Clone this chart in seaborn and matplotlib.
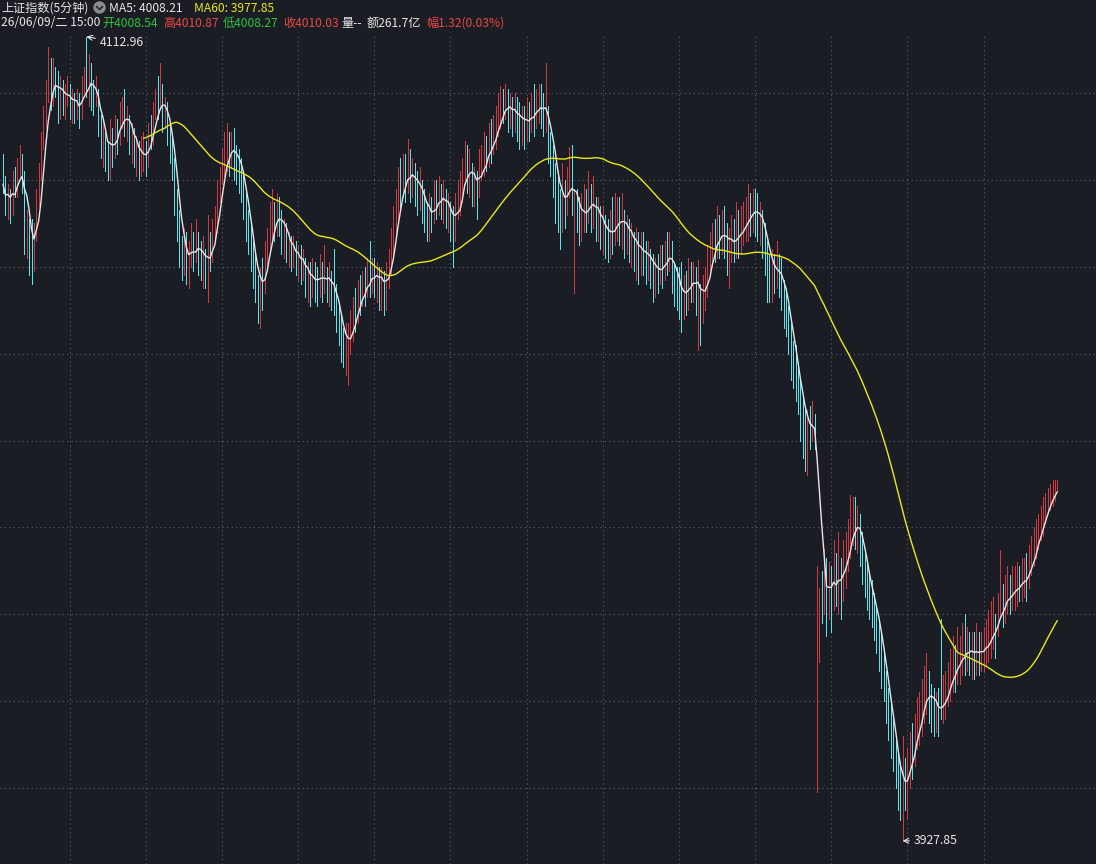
import numpy as np
import pandas as pd
import matplotlib
matplotlib.use("Agg")
import matplotlib.pyplot as plt
import seaborn as sns
from matplotlib.patches import Circle
from matplotlib.lines import Line2D
from matplotlib.transforms import IdentityTransform

# ---------------- data (5-minute bars) ----------------
opens = [
4083,4079,4074,4077,4074,4080,4078,4083,4084,4079,
4066,4070,4066,4062,4068,4076,4081,4089,4094,4100,
4103,4099,4104,4103,4098,4102,4097,4100,4101,4097,
4098,4096,4099,4095,4101,4107,4101,4104,4101,4099,
4100,4093,4089,4091,4086,4085,4091,4087,4092,4090,
4096,4097,4093,4094,4089,4091,4086,4088,4084,4085,
4087,4085,4091,4090,4096,4098,4097,4100,4095,4096,
4092,4088,4084,4076,4071,4064,4062,4066,4060,4062,
4066,4063,4066,4064,4061,4063,4059,4064,4063,4069,
4070,4077,4080,4083,4087,4087,4086,4088,4086,4084,
4082,4080,4077,4070,4068,4063,4061,4056,4053,4057,
4056,4063,4066,4069,4071,4070,4074,4071,4068,4068,
4065,4066,4062,4064,4061,4063,4060,4061,4057,4058,
4056,4058,4057,4056,4059,4057,4058,4056,4057,4055,
4054,4049,4047,4043,4041,4040,4044,4046,4050,4049,
4054,4053,4056,4055,4058,4057,4060,4057,4058,4056,
4057,4055,4058,4060,4066,4070,4073,4078,4077,4082,
4080,4083,4080,4081,4079,4077,4079,4075,4073,4070,
4073,4072,4076,4075,4077,4075,4076,4073,4074,4072,
4068,4074,4076,4077,4082,4085,4081,4082,4079,4080,
4078,4083,4084,4086,4085,4089,4088,4091,4092,4095,
4097,4096,4099,4095,4097,4094,4096,4095,4093,4094,
4092,4095,4094,4096,4095,4097,4098,4097,4093,4096,
4089,4086,4083,4079,4076,4073,4077,4075,4080,4081,
4070,4075,4073,4070,4072,4074,4073,4076,4074,4075,
4071,4072,4069,4070,4067,4066,4069,4068,4071,4072,
4070,4071,4068,4069,4066,4067,4064,4065,4063,4064,
4063,4062,4063,4060,4059,4059,4058,4061,4060,4063,
4062,4064,4060,4056,4055,4054,4052,4055,4054,4058,
4056,4057,4052,4055,4051,4055,4056,4062,4063,4066,
4065,4068,4067,4069,4067,4064,4065,4067,4066,4068,
4067,4069,4070,4071,4073,4072,4074,4073,4071,4071,
4068,4065,4061,4058,4060,4059,4060,4058,4055,4052,
4050,4046,4040,4038,4035,4032,4027,4024,4020,4024,
4022,4024,3982,3978,3986,3983,3990,3984,3988,3986,
3989,3987,3989,3988,3992,3995,3997,4000,4002,4000,
4001,3996,3992,3989,3986,3985,3982,3980,3976,3974,
3969,3965,3961,3957,3953,3950,3946,3940,3936,3943,
3941,3946,3949,3948,3953,3956,3957,3960,3962,3964,
3961,3959,3956,3959,3961,3959,3961,3962,3965,3966,
3968,3967,3970,3970,3972,3971,3972,3971,3972,3970,
3972,3971,3972,3972,3973,3974,3976,3978,3977,3981,
3983,3982,3984,3985,3984,3986,3986,3988,3987,3988,
3989,3988,3992,3994,3996,3997,4000,4001,4003,4005,
4006.4,4007.6,4008.3,4008.54]

highs = [
4086,4081,4079,4078,4082,4083,4085,4088,4086,4082,
4073,4071,4071,4070,4078,4084,4091,4097,4103,4110.6,
4108,4108,4106,4105,4104,4103,4102,4104,4102,4101,
4100,4101,4100,4104,4106,4112.96,4109,4107,4103,4104,
4101,4095,4094,4092,4089,4094,4092,4095,4094,4098,
4099,4101,4097,4095,4093,4092,4090,4089,4090,4091,
4089,4093,4095,4098,4101,4104,4107,4102,4099,4098,
4093,4090,4085,4078,4073,4067,4069,4068,4066,4070,
4068,4071,4068,4066,4067,4064,4072,4068,4071,4074,
4080,4083,4087,4091,4093,4091,4091,4092,4088,4087,
4085,4082,4078,4073,4070,4066,4063,4058,4060,4062,
4066,4069,4075,4078,4075,4077,4076,4073,4071,4070,
4068,4067,4067,4066,4065,4065,4064,4062,4061,4061,
4062,4061,4060,4063,4061,4065,4060,4061,4059,4064,
4056,4052,4049,4046,4047,4047,4050,4053,4055,4057,
4058,4059,4060,4062,4066,4062,4062,4061,4060,4060,
4059,4061,4064,4069,4074,4078,4083,4085,4086,4086,
4089.4,4087,4085,4084,4082,4083,4080,4078,4075,4077,
4076,4080,4080,4081,4079,4080,4078,4077,4075,4074,
4077,4080,4082,4085,4089,4088,4087,4084,4083,4082,
4087,4088,4091,4090,4093,4094,4095,4097,4100,4101.6,
4101,4102,4101,4100,4099,4100,4099,4098,4097,4097,
4099,4098,4100,4102,4101,4102,4102,4100,4106.9,4097,
4091,4088,4084,4082,4078,4084,4080,4083,4087.6,4088,
4078,4078,4076,4077,4079,4078,4082,4079,4081,4076,
4076,4074,4074,4072,4071,4073,4076,4077,4076,4076,
4077,4073,4072,4071,4070,4068,4069,4068,4068,4068,
4066,4066,4064,4063,4062,4063,4065,4065,4066,4068,
4068,4066,4061,4060,4060,4061,4058,4059,4062,4061,
4061,4060,4061.6,4056,4058,4060,4065,4068,4070,4071,
4074,4072,4073,4074,4070,4069,4072,4071,4075,4073,
4074,4075,4076,4079,4077,4078,4078,4077,4075,4073,
4070,4066,4063,4064,4063,4066,4063,4062,4057,4055,
4051,4047,4043,4042,4038,4034,4030,4028,4027,4028,
4029,4026,3991,3986,3990,3995,3993,3992,3991,3997,
3994,3999,3993,3997,3999,4002,4007.5,4007,4007,4005,
4003,3999,3995,3992,3990,3988,3985,3982,3979,3976,
3972,3967,3963,3960,3956,3952,3948,3946,3952,3947,
3949,3953,3955,3957,3961,3962,3965,3968,3971,3967,
3964,3963,3962,3963,3979,3966,3967,3969,3972,3975,
3973,3977,3975,3978,3980,3977,3976,3976,3976,3978,
3976,3976,3977,3979,3981,3983,3984,3980,3985,3994.8,
3987,3989,3991,3989,3991,3991,3992,3991,3993,3993,
3994,3996,3998,4000,4002,4003,4005,4007,4008,4009,
4010,4011,4011,4010.87]

lows = [
4077,4072,4071,4070,4072,4076,4076,4080,4077,4063,
4062,4058,4056,4059,4066,4074,4080,4087,4092,4098,
4096,4097,4099,4093,4094,4095,4094,4097,4094,4093,
4093,4094,4092,4094,4100,4099,4097,4096,4095,4097,
4090,4085,4083,4082,4080,4080,4083,4085,4086,4088,
4092,4090,4089,4086,4084,4083,4081,4080,4081,4082,
4081,4083,4087,4088,4094,4094,4096,4091,4092,4088,
4084,4080,4072,4066,4060,4057,4058,4056,4055,4060,
4059,4061,4058,4057,4055,4055,4052,4059,4061,4066,
4068,4075,4079,4081,4082,4081,4083,4080,4079,4077,
4075,4071,4066,4063,4059,4055,4052,4047,4046,4050,
4054,4060,4063,4066,4066,4067,4067,4063,4062,4061,
4060,4059,4060,4058,4057,4056,4057,4053,4052,4051,
4053,4052,4051,4053,4052,4054,4052,4051,4050,4049,
4045,4042,4038,4037,4035,4032.8,4040,4043,4045,4047,
4049,4051,4051,4053,4053,4054,4053,4052,4050,4050,
4049,4050,4055,4058,4063,4067,4071,4073,4076,4075,
4077,4075,4076,4074,4072,4073,4070,4068,4066,4066,
4068,4070,4071,4072,4071,4070,4069,4068,4066,4060,
4066,4071,4072,4075,4079,4077,4076,4074,4074,4071,
4076,4080,4081,4082,4083,4084,4086,4087,4090,4092,
4093,4094,4091,4092,4090,4091,4089,4087,4088,4087,
4089,4089,4091,4090,4092,4093,4092,4090,4091,4084,
4081,4076,4070,4068,4064,4068,4069,4072,4076,4072,
4054,4068,4065,4066,4068,4068,4070,4068,4069,4066,
4066,4064,4063,4062,4061,4062,4063,4065,4066,4065,
4064,4062,4063,4061,4060,4059,4057,4056,4058,4058,
4056,4057,4055,4052,4053,4054,4056,4055,4057,4058,
4059,4054,4051,4050,4048,4045,4048,4049,4050,4052,
4052,4049,4040.8,4042,4047,4050,4053,4058,4060,4061,
4062,4062,4063,4062,4058,4055,4061,4061,4062,4062,
4063,4065,4066,4066,4067,4068,4067,4066,4065,4062,
4058,4052,4052,4052,4054,4055,4053,4050,4046,4044,
4040,4034,4032,4029,4026,4020,4016,4013,4012,4018,
4020,4018,3939,3969,3978,3980,3975,3979,3976,3981,
3982,3980,3979,3983,3986,3990,3993,3996,3995,3994,
3991,3987,3984,3981,3979,3977,3974,3971,3967,3963,
3960,3955,3951,3947,3944,3940,3935,3932.6,3927.85,3935,
3933,3940,3942,3945,3949,3950,3952,3955,3957,3955,
3953,3952,3953,3952,3956,3955,3956,3959,3960,3962,
3962,3964,3964,3966,3966,3967,3966,3965,3965,3966,
3966,3967,3967,3968,3969,3970,3972,3970,3975,3979.4,
3977,3978,3980,3980,3981,3981,3982,3983,3983,3984,
3983,3986,3989,3991,3993,3995,3997,3998,4001,4003,
4004,4005,4006,4008.27]

closes = [
4079,4074,4077,4074,4080,4078,4083,4084,4079,4066,
4070,4066,4062,4068,4076,4081,4089,4094,4100,4103,
4099,4104,4103,4098,4102,4097,4100,4101,4097,4098,
4096,4099,4095,4101,4104,4101,4104,4101,4099,4100,
4093,4089,4091,4086,4085,4091,4087,4092,4090,4096,
4097,4093,4094,4089,4091,4086,4088,4084,4085,4087,
4085,4091,4090,4096,4098,4097,4100,4095,4096,4092,
4088,4084,4076,4071,4064,4062,4066,4060,4062,4066,
4063,4066,4064,4061,4063,4059,4064,4063,4069,4070,
4077,4080,4083,4087,4087,4086,4088,4086,4084,4082,
4080,4077,4070,4068,4063,4061,4056,4053,4057,4056,
4063,4066,4069,4071,4070,4074,4071,4068,4068,4065,
4066,4062,4064,4061,4063,4060,4061,4057,4058,4056,
4058,4057,4056,4059,4057,4058,4056,4057,4055,4054,
4049,4047,4043,4041,4043,4044,4046,4050,4049,4054,
4053,4056,4055,4058,4057,4060,4057,4058,4056,4057,
4055,4058,4060,4066,4070,4073,4078,4077,4082,4080,
4083,4080,4081,4079,4077,4079,4075,4073,4070,4073,
4072,4076,4075,4077,4075,4076,4073,4074,4070,4068,
4074,4076,4077,4082,4085,4081,4082,4079,4080,4078,
4083,4084,4086,4085,4089,4088,4091,4092,4095,4097,
4096,4099,4095,4097,4094,4096,4095,4093,4094,4092,
4095,4094,4096,4095,4097,4098,4097,4095,4096,4089,
4086,4083,4079,4076,4073,4077,4075,4080,4081,4077,
4075,4073,4070,4072,4074,4073,4076,4074,4075,4071,
4072,4069,4070,4067,4066,4069,4068,4071,4072,4070,
4071,4068,4069,4066,4067,4064,4065,4063,4064,4063,
4062,4063,4060,4059,4059,4058,4061,4060,4063,4062,
4064,4060,4056,4055,4054,4052,4055,4054,4058,4057,
4057,4055,4055,4051,4055,4056,4062,4063,4066,4065,
4068,4067,4069,4067,4064,4065,4067,4066,4068,4067,
4069,4070,4071,4073,4072,4074,4073,4071,4071,4068,
4065,4061,4058,4060,4059,4060,4058,4055,4052,4050,
4046,4040,4038,4035,4032,4027,4024,4022,4024,4023,
4024,4021,3989,3986,3983,3990,3984,3988,3986,3989,
3987,3989,3988,3992,3995,3997,4000,4002,4000,4001,
3996,3992,3989,3986,3985,3982,3980,3976,3974,3969,
3965,3961,3957,3953,3950,3946,3940,3938,3943,3941,
3946,3949,3948,3953,3956,3957,3960,3962,3964,3961,
3959,3958,3959,3957,3959,3961,3962,3965,3966,3968,
3967,3970,3970,3972,3971,3972,3971,3972,3970,3972,
3971,3972,3972,3974,3974,3976,3978,3977,3981,3983,
3982,3984,3985,3984,3986,3986,3987,3987,3988,3989,
3988,3992,3994,3996,3997,4000,4001,4003,4005,4006.4,
4007.6,4008.31,4008.71,4010.03]

grid_prices = [3940, 3960, 3980, 4000, 4020, 4040, 4060, 4080, 4100]
grid_bars = [28, 60, 92, 124, 156, 188, 220, 252, 284, 316, 348, 380, 412]

title_text = "上证指数(5分钟)"
ma5_text = "MA5: 4008.21"
ma60_text = "MA60: 3977.85"
date_text = "26/06/09/二 15:00"
info_texts = ["开4008.54", "高4010.87", "低4008.27", "收4010.03", "量--", "额261.7亿", "幅1.32(0.03%)"]
high_label = "4112.96"
low_label = "3927.85"

# ---------------- style ----------------
W, H = 1096, 864
BG = "#1b1d24"
RED = "#d2383f"
CYAN = "#5ae4ee"
GRID = "#5b5f68"
WHITE = "#e6e6e6"
YELLOW = "#e8e81c"
GREEN = "#2cc33c"
TXTRED = "#ec4646"

sns.set_theme(style="dark", rc={"axes.facecolor": BG, "figure.facecolor": BG})
plt.rcParams["font.family"] = ["Noto Sans CJK SC", "DejaVu Sans"]

df = pd.DataFrame({"open": opens, "high": highs, "low": lows, "close": closes})
df["bar"] = np.arange(len(df))
df["ma5"] = df["close"].rolling(5, min_periods=1).mean()
df["ma60"] = df["close"].rolling(60).mean()

fig = plt.figure(figsize=(W / 100, H / 100), dpi=100)
top_px = 35
ax = fig.add_axes([0, 0, 1, (H - top_px) / H])
ax.set_facecolor(BG)

def px_to_price(y):
    return 4100 - (y - 93) / 4.344

ax.set_ylim(px_to_price(H), px_to_price(top_px))
ax.set_xlim(-3 / 2.38, (W - 3) / 2.38)

for p in grid_prices:
    ax.axhline(p, color=GRID, lw=0.8, ls=(0, (1, 3)), zorder=0)
for b in grid_bars:
    ax.axvline(b, color=GRID, lw=0.8, ls=(0, (1, 3)), zorder=0)

up = df["close"] >= df["open"]
dn = ~up
for mask, col in ((up, RED), (dn, CYAN)):
    sub = df[mask]
    ax.vlines(sub["bar"], sub["low"], sub["high"], color=col, lw=0.72,
              antialiased=False, zorder=2)
    ax.vlines(sub["bar"], np.minimum(sub["open"], sub["close"]),
              np.maximum(sub["open"], sub["close"]), color=col, lw=0.72,
              antialiased=False, zorder=2)

sns.lineplot(data=df, x="bar", y="ma5", color=WHITE, lw=1.0, ax=ax, zorder=3)
sns.lineplot(data=df, x="bar", y="ma60", color=YELLOW, lw=1.0, ax=ax, zorder=3)

ax.set_xticks([])
ax.set_yticks([])
ax.set_xlabel("")
ax.set_ylabel("")
ax.grid(False)
for s in ax.spines.values():
    s.set_visible(False)

# extreme labels
hi_i = int(np.argmax(highs))
lo_i = int(np.argmin(lows))
ax.annotate(high_label, xy=(hi_i, highs[hi_i]), xytext=(100, H - 43),
            textcoords="figure pixels", ha="left", va="center", color=WHITE,
            fontsize=8.8, arrowprops=dict(arrowstyle="->", color=WHITE, lw=0.8,
                                          shrinkA=1, shrinkB=0), zorder=5)
ax.annotate(low_label, xy=(lo_i, lows[lo_i]), xytext=(914, H - 841),
            textcoords="figure pixels", ha="left", va="center", color=WHITE,
            fontsize=8.8, arrowprops=dict(arrowstyle="->", color=WHITE, lw=0.8,
                                          shrinkA=1, shrinkB=0), zorder=5)

# header texts
FS = 8.7
def ftext(x, y, s, color, ha="left"):
    fig.text(x / W, 1 - y / H, s, color=color, fontsize=FS, ha=ha, va="center")

ftext(1, 8, title_text, WHITE)
fig.add_artist(Circle((99.5, H - 7.5), 5.5, transform=IdentityTransform(),
                      color="#8d8d8d", zorder=5))
fig.add_artist(Line2D([96.5, 99.5, 102.5], [H - 6.5, H - 9.5, H - 6.5],
                      transform=IdentityTransform(), color="#2b2d33", lw=1.3, zorder=6))
ftext(109, 8, ma5_text, WHITE)
ftext(194, 8, ma60_text, YELLOW)

ftext(1, 23, date_text, WHITE)
info_x = [102, 163, 223, 283, 341, 367, 426]
info_c = [GREEN, TXTRED, GREEN, TXTRED, WHITE, WHITE, TXTRED]
for x, s, c in zip(info_x, info_texts, info_c):
    ftext(x, 23, s, c)

fig.savefig("out.png", dpi=100, facecolor=BG)
